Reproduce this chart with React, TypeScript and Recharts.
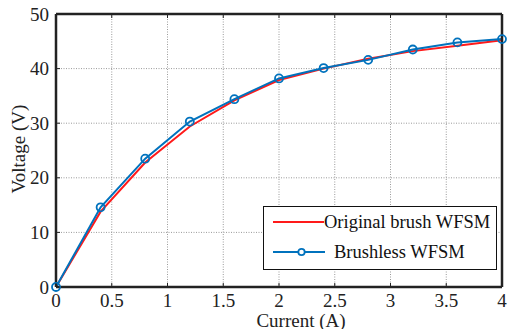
import { LineChart, Line, XAxis, YAxis, CartesianGrid, Legend } from "recharts";

const currents = [0, 0.4, 0.8, 1.2, 1.6, 2.0, 2.4, 2.8, 3.2, 3.6, 4.0];
const brushVoltage = [0, 13.8, 22.8, 29.4, 34.2, 37.9, 40.0, 41.8, 43.2, 44.2, 45.2];
const brushlessVoltage = [0, 14.6, 23.5, 30.3, 34.4, 38.2, 40.1, 41.6, 43.5, 44.8, 45.4];
const xTicks = [0, 0.5, 1, 1.5, 2, 2.5, 3, 3.5, 4];
const yTicks = [0, 10, 20, 30, 40, 50];
const seriesOrder = ["brush", "brushless"];

const data = currents.map((c, i) => ({
  current: c,
  brush: brushVoltage[i],
  brushless: brushlessVoltage[i],
}));

const FONT = "Liberation Serif";
const RED = "#ff1a1a";
const BLUE = "#0072bd";
const TICK = 4;

function BottomTick({ x, y, payload }: any) {
  const axisY = y - 8;
  return (
    <g>
      <line x1={x} x2={x} y1={axisY} y2={axisY - TICK} stroke="#222" strokeWidth={1} />
      <text x={x} y={axisY + 20} textAnchor="middle" fill="#222" style={{ fontFamily: FONT, fontSize: 19 }}>
        {payload.value}
      </text>
    </g>
  );
}

function LeftTick({ x, y, payload }: any) {
  const axisX = x + 8;
  return (
    <g>
      <line x1={axisX} x2={axisX + TICK} y1={y} y2={y} stroke="#222" strokeWidth={1} />
      <text x={axisX - 7} y={y + 6.5} textAnchor="end" fill="#222" style={{ fontFamily: FONT, fontSize: 19 }}>
        {payload.value}
      </text>
    </g>
  );
}

function TopTick({ x, y }: any) {
  return <line x1={x} x2={x} y1={y} y2={y + TICK} stroke="#222" strokeWidth={1} />;
}

function RightTick({ x, y }: any) {
  return <line x1={x} x2={x - TICK} y1={y} y2={y} stroke="#222" strokeWidth={1} />;
}

function LegendBox({ payload }: any) {
  const items = [...(payload || [])].sort(
    (a: any, b: any) => seriesOrder.indexOf(a.dataKey) - seriesOrder.indexOf(b.dataKey)
  );
  return (
    <div
      style={{
        width: 234,
        height: 64,
        border: "1.5px solid #111",
        background: "#fff",
        fontFamily: FONT,
        fontSize: 18.5,
        color: "#111",
        boxSizing: "border-box",
      }}
    >
      {items.map((p: any) => {
        const marker = p.dataKey === "brushless";
        return (
          <div key={p.value} style={{ display: "flex", alignItems: "center", height: 30, paddingLeft: 8 }}>
            <svg width={marker ? 54 : 52} height={12} style={{ marginRight: marker ? 8 : 0, flexShrink: 0 }}>
              <line x1={1} x2={marker ? 53 : 52} y1={6} y2={6} stroke={p.color} strokeWidth={2} />
              {marker && <circle cx={29.5} cy={6} r={3.2} fill="#fff" stroke={p.color} strokeWidth={1.8} />}
            </svg>
            <span style={{ whiteSpace: "nowrap" }}>{p.value}</span>
          </div>
        );
      })}
    </div>
  );
}

export default function App() {
  return (
    <div style={{ position: "fixed", left: 0, top: 0, width: 509, height: 329, background: "#fff", fontFamily: FONT }}>
      <LineChart width={509} height={329} data={data} margin={{ top: 9, right: 2, left: 0, bottom: 0 }}>
        <CartesianGrid stroke="#9a9a9a" strokeDasharray="1 1.5" strokeWidth={1} />
        <XAxis
          dataKey="current"
          type="number"
          domain={[0, 4]}
          ticks={xTicks}
          height={42}
          tickSize={0}
          tickMargin={8}
          tickLine={false}
          axisLine={{ stroke: "#222", strokeWidth: 2.5 }}
          tick={<BottomTick />}
          interval={0}
          label={{ value: "Current (A)", position: "insideBottom", dx: 22, dy: 3, fill: "#222", style: { fontFamily: FONT, fontSize: 19 } }}
        />
        <XAxis
          xAxisId="top"
          orientation="top"
          dataKey="current"
          type="number"
          domain={[0, 4]}
          ticks={xTicks}
          height={5}
          tickSize={0}
          tickMargin={0}
          tickLine={false}
          axisLine={{ stroke: "#222", strokeWidth: 2.5 }}
          tick={<TopTick />}
          interval={0}
        />
        <YAxis
          type="number"
          domain={[0, 50]}
          ticks={yTicks}
          width={56}
          tickSize={0}
          tickMargin={8}
          tickLine={false}
          axisLine={{ stroke: "#222", strokeWidth: 2.5 }}
          tick={<LeftTick />}
          interval={0}
          label={{ value: "Voltage (V)", angle: -90, position: "insideLeft", dx: 13, dy: 43, fill: "#222", style: { fontFamily: FONT, fontSize: 19 } }}
        />
        <YAxis
          yAxisId="right"
          orientation="right"
          type="number"
          domain={[0, 50]}
          ticks={yTicks}
          width={5}
          tickSize={0}
          tickMargin={0}
          tickLine={false}
          axisLine={{ stroke: "#222", strokeWidth: 2.5 }}
          tick={<RightTick />}
          interval={0}
        />
        <Legend
          layout="vertical"
          align="center"
          verticalAlign="middle"
          wrapperStyle={{ left: 263, top: 206, width: 234 }}
          content={<LegendBox />}
        />
        <Line
          name="Original brush WFSM"
          dataKey="brush"
          stroke={RED}
          strokeWidth={2}
          dot={false}
          type="linear"
          isAnimationActive={false}
        />
        <Line
          name="Brushless WFSM"
          dataKey="brushless"
          stroke={BLUE}
          strokeWidth={2}
          dot={{ r: 4, fill: "none", stroke: BLUE, strokeWidth: 1.8 }}
          type="linear"
          isAnimationActive={false}
        />
      </LineChart>
    </div>
  );
}
